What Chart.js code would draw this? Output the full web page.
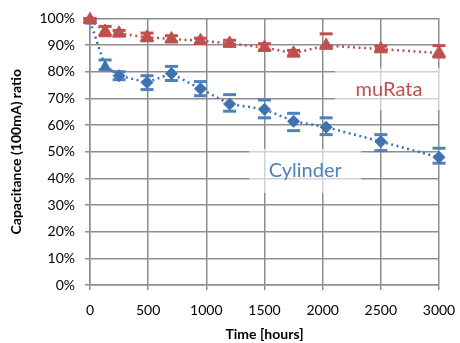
<!DOCTYPE html>
<html>
<head>
<meta charset="utf-8">
<script src="https://cdn.jsdelivr.net/npm/chart.js@4/dist/chart.umd.min.js"></script>
<style>
  html, body { margin: 0; background: #fff; }
</style>
</head>
<body>
<canvas id="chart" width="460" height="343"></canvas>
<script>
// time in hours, shared by both series
const hours = [0, 130, 250, 490, 700, 950, 1200, 1500, 1750, 2030, 2500, 3000];

const murata = [99.5, 95.1, 94.4, 92.9, 92.3, 91.6, 90.6, 89.1, 86.9, 89.8, 88.5, 87.0];
const murataHigh = [100, 97.0, 95.5, 94.5, 93.5, 92.6, 91.8, 90.5, 88.0, 94.2, 89.6, 89.8];
const murataLow = [99.0, 93.5, 93.5, 91.6, 91.2, 90.6, 89.6, 88.0, 86.0, 89.0, 87.6, 85.5];

const cylinder = [99.0, 82.0, 78.5, 76.0, 79.3, 73.6, 67.9, 65.9, 61.4, 59.2, 53.8, 47.9];
const cylinderHigh = [99.8, 84.4, 80.0, 78.5, 82.0, 76.3, 71.4, 69.4, 64.4, 62.7, 56.4, 51.3];
const cylinderLow = [98.5, 80.7, 77.0, 73.3, 76.7, 71.0, 65.2, 62.7, 57.9, 56.4, 50.4, 45.7];

const xTicks = [0, 500, 1000, 1500, 2000, 2500, 3000];

const RED = "#C0504D";
const BLUE = "#4F81BD";
const FONT = "Lato";

const toPoints = (values) => values.map((v, i) => ({ x: hours[i], y: v }));

const capSet = (values, color) => ({
  data: toPoints(values),
  showLine: false,
  clip: false,
  pointStyle: "line",
  pointRadius: 6.5,
  pointHoverRadius: 6.5,
  pointBorderWidth: 3,
  borderColor: color,
  backgroundColor: color,
});

// text boxes placed in data units
const notes = [
  { text: "muRata", x: 2570, y: 73.5, w: 108, h: 42, color: RED },
  { text: "Cylinder", x: 1850, y: 42.8, w: 112, h: 44, color: BLUE },
];

const notePlugin = {
  id: "notes",
  beforeDatasetsDraw(chart) {
    const { ctx, scales } = chart;
    ctx.save();
    notes.forEach((n) => {
      const px = scales.x.getPixelForValue(n.x);
      const py = scales.y.getPixelForValue(n.y);
      ctx.fillStyle = "rgba(255,255,255,0.6)";
      ctx.fillRect(px - n.w / 2, py - n.h / 2, n.w, n.h);
      ctx.fillStyle = n.color;
      ctx.font = `20px ${FONT}`;
      ctx.textAlign = "center";
      ctx.textBaseline = "middle";
      ctx.fillText(n.text, px, py);
    });
    ctx.restore();
  },
};

new Chart(document.getElementById("chart"), {
  type: "line",
  data: {
    datasets: [
      {
        data: toPoints(murata),
        clip: false,
        borderColor: RED,
        backgroundColor: RED,
        borderWidth: 2.5,
        borderDash: [2, 3.5],
        pointStyle: "triangle",
        pointRadius: 7.5,
        pointBorderWidth: 1,
      },
      {
        data: toPoints(cylinder),
        clip: false,
        borderColor: "#3F72B0",
        backgroundColor: "#3F72B0",
        borderWidth: 2.5,
        borderDash: [2, 3.5],
        pointStyle: ["triangle", "triangle", "rectRot", "rectRot", "rectRot", "rectRot", "rectRot", "rectRot", "rectRot", "rectRot", "rectRot", "rectRot"],
        pointRadius: 6,
        pointBorderWidth: 1,
      },
      capSet(murataHigh, RED),
      capSet(murataLow, RED),
      capSet(cylinderHigh, BLUE),
      capSet(cylinderLow, BLUE),
    ],
  },
  options: {
    responsive: false,
    animation: false,
    layout: { padding: { top: 10, right: 21, left: 0, bottom: 0 } },
    plugins: {
      legend: { display: false },
      tooltip: { enabled: false },
    },
    scales: {
      x: {
        type: "linear",
        min: 0,
        max: 3000,
        afterBuildTicks: (scale) => {
          scale.ticks = xTicks.map((v) => ({ value: v }));
        },
        afterFit: (scale) => {
          scale.height = 58;
          scale.paddingLeft = 0;
          scale.paddingRight = 0;
        },
        grid: { color: "#8e8e8e", lineWidth: 1.5, tickLength: 5 },
        border: { color: "#8e8e8e", width: 1.5 },
        ticks: {
          color: "#000",
          font: { family: FONT, size: 14 },
          padding: 12,
          maxRotation: 0,
          callback: (v) => String(v),
        },
        title: {
          display: true,
          text: "Time [hours]",
          color: "#000",
          font: { family: FONT, size: 14, weight: "bold" },
          padding: { top: 0, bottom: 0 },
        },
      },
      y: {
        min: 0,
        max: 100,
        afterFit: (scale) => {
          scale.width = 90;
        },
        grid: { color: "#8e8e8e", lineWidth: 1.5, tickLength: 5 },
        border: { color: "#8e8e8e", width: 1.5 },
        ticks: {
          stepSize: 10,
          color: "#000",
          font: { family: FONT, size: 14 },
          padding: 10,
          callback: (v) => v + "%",
        },
        title: {
          display: true,
          text: "Capacitance (100mA) ratio",
          color: "#000",
          font: { family: FONT, size: 14, weight: "bold" },
          padding: { top: 8, bottom: 0 },
        },
      },
    },
  },
  plugins: [notePlugin],
});
</script>
</body>
</html>
